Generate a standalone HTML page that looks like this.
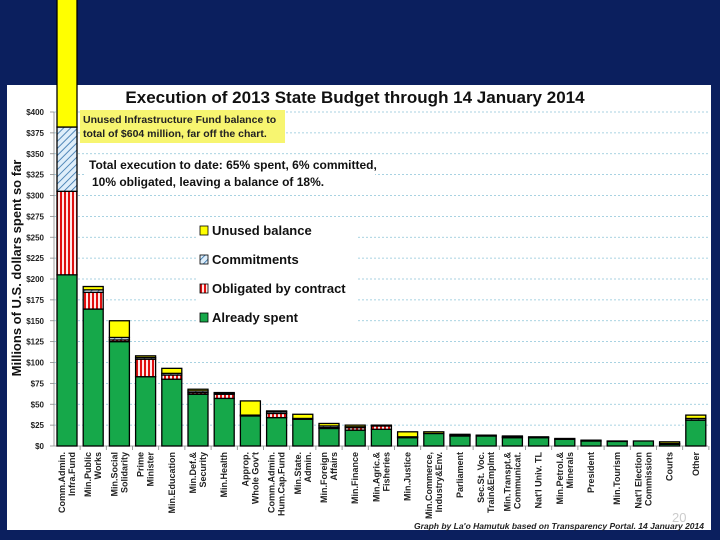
<!DOCTYPE html>
<html><head><meta charset="utf-8"><style>
html,body{margin:0;padding:0;}
body{width:720px;height:540px;background:#0b1f5e;overflow:hidden;position:relative;font-family:"Liberation Sans",sans-serif;}
svg{position:absolute;left:0;top:0;}
</style></head><body>
<svg id="chart" width="720" height="540">
<defs>
<pattern id="hatch" width="5" height="5" patternUnits="userSpaceOnUse" patternTransform="rotate(45)">
<rect width="5" height="5" fill="#dfeefa"/><line x1="0" y1="0" x2="0" y2="5" stroke="#2f6fa8" stroke-width="1.6"/></pattern>
<pattern id="stripe" width="4" height="4" patternUnits="userSpaceOnUse">
<rect width="4" height="4" fill="#ffe8e8"/><rect width="2" height="4" fill="#e01010"/></pattern>
</defs>
<rect x="7" y="85" width="704" height="445" fill="#ffffff"/>
<g id="grid"></g>
<g id="yticks"></g>
<g id="bars"></g>
<g id="xlabels"></g>
<text x="355" y="103" text-anchor="middle" font-size="17" font-weight="bold" fill="#111">Execution of 2013 State Budget through 14 January 2014</text>
<text transform="translate(21,268) rotate(-90)" text-anchor="middle" font-size="13" font-weight="bold" fill="#111">Millions of U.S. dollars spent so far</text>
<rect x="80" y="110" width="205" height="33" fill="#f7f570"/>
<text x="83" y="123" font-size="10.5" font-weight="bold" fill="#222"><tspan x="83">Unused Infrastructure Fund balance to</tspan><tspan x="83" dy="14">total of $604 million, far off the chart.</tspan></text>
<rect x="85" y="155" width="290" height="35" fill="#fff"/>
<text font-size="12" font-weight="bold" fill="#111"><tspan x="89" y="169">Total execution to date: 65% spent, 6% committed,</tspan><tspan x="92" y="186">10% obligated, leaving a balance of 18%.</tspan></text>
<g>
<rect x="196" y="220" width="160" height="105" fill="#fff"/>
<rect x="200" y="226" width="8" height="9" fill="#ffff00" stroke="#000" stroke-width="0.8"/>
<text x="212" y="235" font-size="13" font-weight="bold" fill="#111">Unused balance</text>
<rect x="200" y="255" width="8" height="9" fill="url(#hatch)" stroke="#000" stroke-width="0.8"/>
<text x="212" y="264" font-size="13" font-weight="bold" fill="#111">Commitments</text>
<rect x="200" y="284" width="8" height="9" fill="url(#stripe)" stroke="#000" stroke-width="0.8"/>
<text x="212" y="293" font-size="13" font-weight="bold" fill="#111">Obligated by contract</text>
<rect x="200" y="313" width="8" height="9" fill="#16a84a" stroke="#000" stroke-width="0.8"/>
<text x="212" y="322" font-size="13" font-weight="bold" fill="#111">Already spent</text>
</g>
<text x="672" y="522" font-size="13" fill="#ccc">20</text>
<text x="704" y="529" text-anchor="end" font-size="8.5" font-style="italic" font-weight="bold" fill="#222">Graph by La'o Hamutuk based on Transparency Portal.    14 January 2014</text>
</svg>
<script>
const categories=[["Comm.Admin.","Infra.Fund"],["Min.Public","Works"],["Min.Social","Solidarity"],["Prime","Minister"],["Min.Education"],["Min.Def.&","Security"],["Min.Health"],["Approp.","Whole Gov't"],["Comm.Admin.","Hum.Cap.Fund"],["Min.State.","Admin."],["Min.Foreign","Affairs"],["Min.Finance"],["Min.Agric.&","Fisheries"],["Min.Justice"],["Min.Commerce,","Industry&Env."],["Parliament"],["Sec.St. Voc.","Train&Emplmt"],["Min.Transpt.&","Communicat."],["Nat'l Univ. TL"],["Min.Petrol.&","Minerals"],["President"],["Min.Tourism"],["Nat'l Election","Commission"],["Courts"],["Other"]];
const spent=[205,164,125,83,80,62,57,36,34,32,21,19,20,10,15,12,12,10,10,8,6,5.5,6,2,31];
const obligated=[100,20,2,21,5,2,5,0,5,0,1,3,4,0,0,0,0,0,0,0,0,0,0,0,0];
const commitments=[77,3,3,2,2,2,1,1,2,1,2,1,0,1,0,1,0,1,0,0,0,0,0,1,2];
const unused=[222,4,20,2,6,2,1,17,1,5,3,2,1,6,2,1,1,1,1,1,1,0.5,0,2,4];
const yTicks=[0,25,50,75,100,125,150,175,200,225,250,275,300,325,350,375,400];

const NS="http://www.w3.org/2000/svg";
const y0=446, pxPer=(446-112)/400;
const yScale=v=>y0-v*pxPer;
const xLeft=54, step=26.2, x0=67, bw=20;
const xScale=i=>x0+i*step;
function mk(tag,attrs,parent){const e=document.createElementNS(NS,tag);for(const k in attrs)e.setAttribute(k,attrs[k]);parent.appendChild(e);return e;}
const grid=document.getElementById('grid'),yt=document.getElementById('yticks'),bars=document.getElementById('bars'),xl=document.getElementById('xlabels');
yTicks.forEach(t=>{
  const y=yScale(t);
  if(t>0){const g=mk('line',{x1:xLeft,x2:708,y1:y,y2:y,stroke:'#8cc4d8','stroke-width':0.8,'stroke-dasharray':'2,2'},grid);
  
  }
  const tk=mk('line',{x1:xLeft-4,x2:xLeft,y1:y,y2:y,stroke:'#888','stroke-width':0.8},yt);
  
  
  const tx=mk('text',{x:44,y:y+3,'text-anchor':'end','font-size':8,'font-weight':'bold',fill:'#222'},yt);
  tx.textContent='$'+t;
  
  
});
const ax=mk('line',{x1:xLeft,x2:xLeft,y1:yScale(400),y2:y0,stroke:'#888','stroke-width':0.8},yt);


const bx=mk('line',{x1:xLeft,x2:708,y1:y0,y2:y0,stroke:'#888','stroke-width':0.8},yt);


categories.forEach((c,i)=>{
  const cx=xScale(i);
  const segs=[[spent[i],'#16a84a','bar-spent'],[obligated[i],'url(#stripe)','bar-obligated'],[commitments[i],'url(#hatch)','bar-commitments'],[unused[i],'#ffff00','bar-unused']];
  let base=0;
  segs.forEach(s=>{
    if(s[0]<=0)return;
    const top=base+s[0];
    const r=mk('rect',{x:cx-bw/2,y:yScale(top),width:bw,height:yScale(base)-yScale(top),fill:s[1],stroke:'#000','stroke-width':1.3},bars);
    
    
    base=top;
  });
  const tk=mk('line',{x1:cx+step/2,x2:cx+step/2,y1:y0,y2:y0+4,stroke:'#888','stroke-width':0.8},xl);
  
  
  const lines=c.length;
  const t=mk('text',{transform:`translate(${cx},${y0+6}) rotate(-90)`,'text-anchor':'end','font-size':9,'font-weight':'bold',fill:'#222'},xl);
  
  
  c.forEach((ln,j)=>{const ts=mk('tspan',{x:0,y:(lines===1?3:(j===0?-2:8))},t);ts.textContent=ln;});
});
</script>
</body></html>
